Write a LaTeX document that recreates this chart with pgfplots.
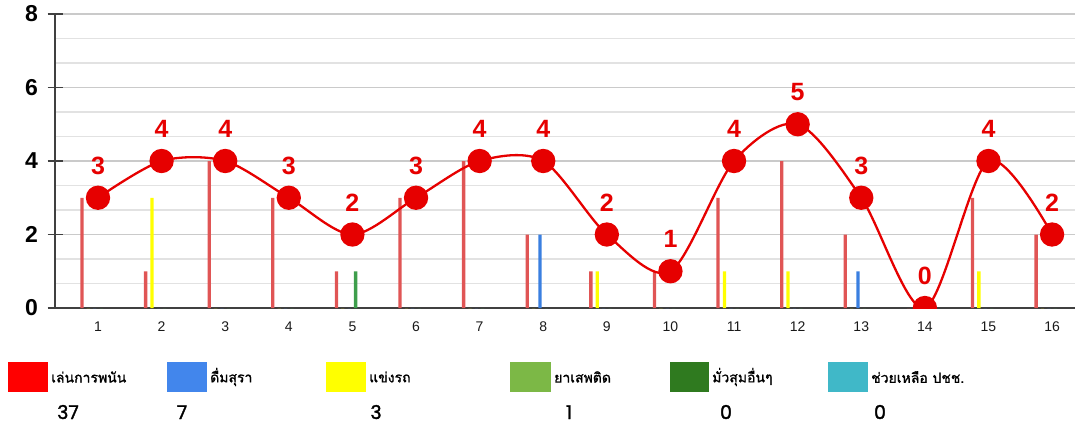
\documentclass[border=0pt]{standalone}
\usepackage{pgfplots}
\pgfplotsset{compat=1.18}
\usepackage{pgfplotstable}
\usepackage{fontspec}
\setmainfont{Liberation Sans}
\newfontfamily\thaifont[Script=Thai,FakeBold=1.2]{Loma}
\newfontfamily\numfont[FakeBold=1.6]{Poppins}
\definecolor{barred}{HTML}{E05555}
\definecolor{linered}{HTML}{E60000}
\definecolor{cblue}{HTML}{3A7FE0}
\definecolor{cyellow}{HTML}{FFFF00}
\definecolor{cgreenbar}{HTML}{3E9E4C}
\definecolor{lred}{HTML}{FF0000}
\definecolor{lblue}{HTML}{4286EC}
\definecolor{lgreen}{HTML}{7CB846}
\definecolor{dgreen}{HTML}{2F7A1F}
\definecolor{ccyan}{HTML}{40B8C8}
\definecolor{majgrid}{HTML}{CACACA}
\definecolor{mingrid}{HTML}{E2E2E2}
\definecolor{axcol}{HTML}{404040}
\pgfplotstableread{
x red yellow blue green total
1 3 0 0 0 3
2 1 3 0 0 4
3 4 0 0 0 4
4 3 0 0 0 3
5 1 0 0 1 2
6 3 0 0 0 3
7 4 0 0 0 4
8 2 0 2 0 4
9 1 1 0 0 2
10 1 0 0 0 1
11 3 1 0 0 4
12 4 1 0 0 5
13 2 0 1 0 3
14 0 0 0 0 0
15 3 1 0 0 4
16 2 0 0 0 2
}\data
\begin{document}
\begin{tikzpicture}
\useasboundingbox (0,0) rectangle (1090pt,424pt);
\begin{axis}[
  at={(55pt,116pt)}, anchor=south west, scale only axis,
  width=1020pt, height=294pt,
  xmin=0.324, xmax=16.36, ymin=0, ymax=8,
  /pgf/number format/assume math mode=true,
  axis x line*=bottom, axis y line*=left,
  xtick={1,...,16}, ytick={0,2,4,6,8}, minor y tick num=2,
  ymajorgrids, yminorgrids,
  major grid style={draw=majgrid, line width=1.3pt},
  minor grid style={draw=mingrid, line width=1.3pt},
  x axis line style={draw=axcol, line width=1.3pt, shorten <=-7pt, -},
  y axis line style={draw=axcol, line width=1.3pt, -},
  xtick style={draw=none},
  ytick style={draw=axcol, line width=1.3pt},
  tick align=center, major tick length=15pt, minor tick length=0pt,
  yticklabel style={font=\bfseries\fontsize{23}{23}\selectfont, text=black, xshift=-6pt},
  xticklabel style={font=\fontsize{14}{14}\selectfont, text=black!90, yshift=-3pt},
  clip=true, clip marker paths=true,
]
\addplot[ybar, bar width=3.3pt, bar shift=-16pt, fill=barred, draw=none] table[x=x,y=red]{\data};
\addplot[ybar, bar width=3.3pt, bar shift=-9.6pt, fill=cyellow, draw=none] table[x=x,y=yellow]{\data};
\addplot[ybar, bar width=3.3pt, bar shift=-3.2pt, fill=cblue, draw=none] table[x=x,y=blue]{\data};
\addplot[ybar, bar width=3.3pt, bar shift=3.2pt, fill=cgreenbar, draw=none] table[x=x,y=green]{\data};
\addplot[linered, line width=2.3pt, smooth, mark=*, mark size=11pt,
  mark options={fill=linered, draw=none}]
  table[x=x,y=total]{\data};
\addplot[draw=none, mark=none, only marks,
  nodes near coords,
  every node near coord/.append style={font=\bfseries\fontsize{25}{25}\selectfont, text=linered, anchor=center, yshift=32pt, inner sep=0pt}]
  table[x=x,y=total]{\data};
\end{axis}
% legend
\begin{scope}[every node/.style={inner sep=0pt}]
\fill[lred] (8pt,32pt) rectangle (48pt,62pt);
\node[anchor=west] at (51pt,47pt) {\thaifont\fontsize{14}{14}\selectfont เล่นการพนัน};
\fill[lblue] (167pt,32pt) rectangle (207pt,62pt);
\node[anchor=west] at (210pt,47pt) {\thaifont\fontsize{14}{14}\selectfont ดื่มสุรา};
\fill[cyellow] (326pt,32pt) rectangle (366pt,62pt);
\node[anchor=west] at (369pt,47pt) {\thaifont\fontsize{14}{14}\selectfont แข่งรถ};
\fill[lgreen] (510pt,32pt) rectangle (551pt,62pt);
\node[anchor=west] at (554pt,47pt) {\thaifont\fontsize{14}{14}\selectfont ยาเสพติด};
\fill[dgreen] (670pt,32pt) rectangle (709pt,62pt);
\node[anchor=west] at (712pt,47pt) {\thaifont\fontsize{14}{14}\selectfont มั่วสุมอื่นๆ};
\fill[ccyan] (828pt,32pt) rectangle (868pt,62pt);
\node[anchor=west] at (871pt,47pt) {\thaifont\fontsize{14}{14}\selectfont ช่วยเหลือ ปชช.};
\node[anchor=base] at (68pt,5pt) {\numfont\fontsize{19}{19}\selectfont 37};
\node[anchor=base] at (182pt,5pt) {\numfont\fontsize{19}{19}\selectfont 7};
\node[anchor=base] at (376pt,5pt) {\numfont\fontsize{19}{19}\selectfont 3};
\node[anchor=base] at (569pt,5pt) {\numfont\fontsize{19}{19}\selectfont 1};
\node[anchor=base] at (726pt,5pt) {\numfont\fontsize{19}{19}\selectfont 0};
\node[anchor=base] at (880pt,5pt) {\numfont\fontsize{19}{19}\selectfont 0};
\end{scope}
\end{tikzpicture}
\end{document}
